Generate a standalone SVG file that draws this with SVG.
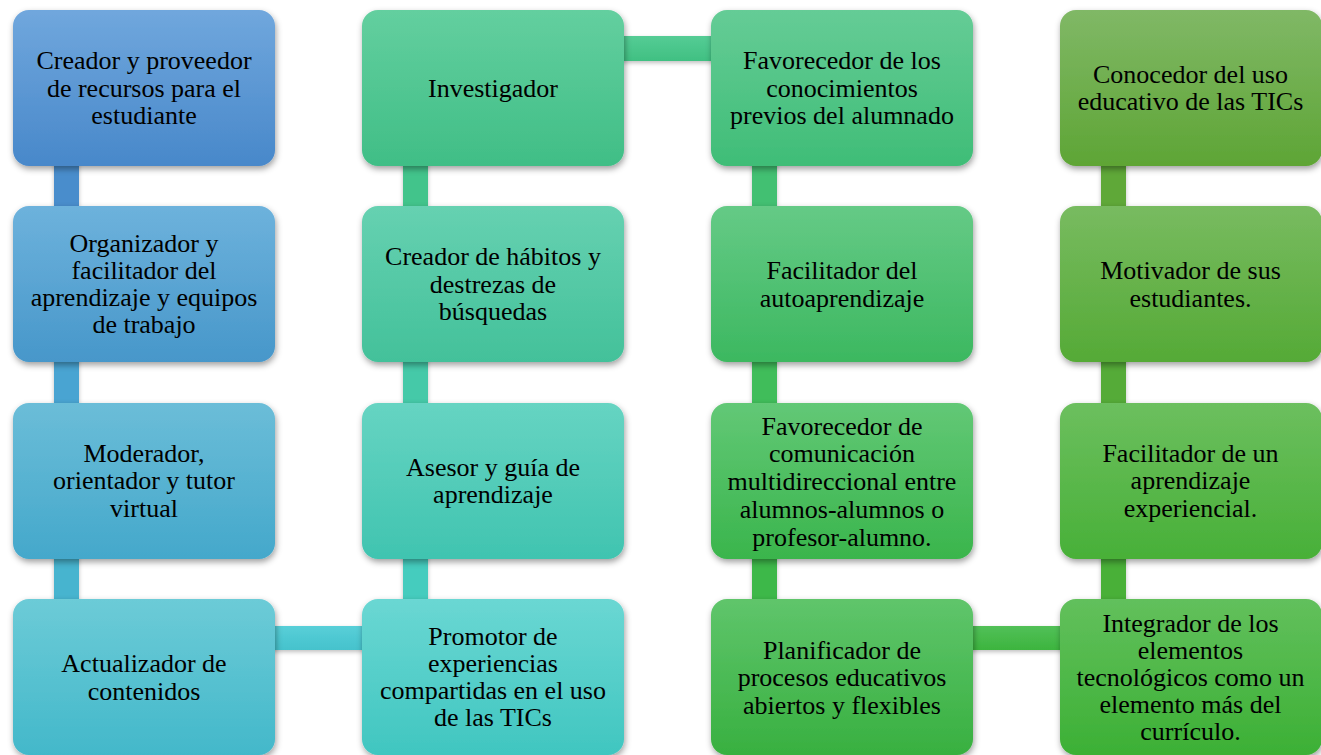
<svg xmlns="http://www.w3.org/2000/svg" width="1321" height="755" viewBox="0 0 1321 755">
<style>
.box{filter:url(#sh);}
.t{font-family:'Liberation Serif','Times New Roman',serif;font-size:26px;fill:#000;text-anchor:middle;}
.con{filter:url(#shc);}
</style>
<defs>
<filter id="sh" x="-10%" y="-10%" width="125%" height="130%">
<feDropShadow dx="1" dy="3" stdDeviation="3" flood-color="#000" flood-opacity="0.38"/>
</filter>
<filter id="shc" x="-20%" y="-20%" width="140%" height="160%">
<feDropShadow dx="0" dy="2" stdDeviation="2" flood-color="#000" flood-opacity="0.25"/>
</filter>
<linearGradient id="g11" x1="0" y1="0" x2="0" y2="1"><stop offset="0" stop-color="#70a7dd"/><stop offset="1" stop-color="#4888ca"/></linearGradient>
<linearGradient id="g12" x1="0" y1="0" x2="0" y2="1"><stop offset="0" stop-color="#6db2dc"/><stop offset="1" stop-color="#4797ca"/></linearGradient>
<linearGradient id="g13" x1="0" y1="0" x2="0" y2="1"><stop offset="0" stop-color="#6bbdd8"/><stop offset="1" stop-color="#44a8cb"/></linearGradient>
<linearGradient id="g14" x1="0" y1="0" x2="0" y2="1"><stop offset="0" stop-color="#6ccbd7"/><stop offset="1" stop-color="#43b8ca"/></linearGradient>
<linearGradient id="g21" x1="0" y1="0" x2="0" y2="1"><stop offset="0" stop-color="#63cf9f"/><stop offset="1" stop-color="#40be86"/></linearGradient>
<linearGradient id="g22" x1="0" y1="0" x2="0" y2="1"><stop offset="0" stop-color="#66d1b1"/><stop offset="1" stop-color="#43c19a"/></linearGradient>
<linearGradient id="g23" x1="0" y1="0" x2="0" y2="1"><stop offset="0" stop-color="#66d4c2"/><stop offset="1" stop-color="#40c4b0"/></linearGradient>
<linearGradient id="g24" x1="0" y1="0" x2="0" y2="1"><stop offset="0" stop-color="#6ad7d3"/><stop offset="1" stop-color="#40c6c0"/></linearGradient>
<linearGradient id="g31" x1="0" y1="0" x2="0" y2="1"><stop offset="0" stop-color="#65cc96"/><stop offset="1" stop-color="#3fbd77"/></linearGradient>
<linearGradient id="g32" x1="0" y1="0" x2="0" y2="1"><stop offset="0" stop-color="#65ca86"/><stop offset="1" stop-color="#3cb860"/></linearGradient>
<linearGradient id="g33" x1="0" y1="0" x2="0" y2="1"><stop offset="0" stop-color="#62c876"/><stop offset="1" stop-color="#3ab54c"/></linearGradient>
<linearGradient id="g34" x1="0" y1="0" x2="0" y2="1"><stop offset="0" stop-color="#5fc56b"/><stop offset="1" stop-color="#38b040"/></linearGradient>
<linearGradient id="g41" x1="0" y1="0" x2="0" y2="1"><stop offset="0" stop-color="#80b866"/><stop offset="1" stop-color="#5ea535"/></linearGradient>
<linearGradient id="g42" x1="0" y1="0" x2="0" y2="1"><stop offset="0" stop-color="#78bb60"/><stop offset="1" stop-color="#55aa36"/></linearGradient>
<linearGradient id="g43" x1="0" y1="0" x2="0" y2="1"><stop offset="0" stop-color="#6cbf5e"/><stop offset="1" stop-color="#48b038"/></linearGradient>
<linearGradient id="g44" x1="0" y1="0" x2="0" y2="1"><stop offset="0" stop-color="#62c05c"/><stop offset="1" stop-color="#3cb035"/></linearGradient>
<linearGradient id="hc1" x1="0" y1="0" x2="0" y2="1"><stop offset="0" stop-color="#58cfd8"/><stop offset="1" stop-color="#45c2cc"/></linearGradient>
<linearGradient id="hc2" x1="0" y1="0" x2="0" y2="1"><stop offset="0" stop-color="#55cc95"/><stop offset="1" stop-color="#40c082"/></linearGradient>
<linearGradient id="hc3" x1="0" y1="0" x2="0" y2="1"><stop offset="0" stop-color="#52c058"/><stop offset="1" stop-color="#3cb43e"/></linearGradient>
</defs>
<rect width="1321" height="755" fill="#fff"/>
<g id="connectors">
<rect class="con" x="54" y="160" width="25" height="52" fill="#4a8dcc"/>
<rect class="con" x="54" y="356" width="25" height="52" fill="#49a4d2"/>
<rect class="con" x="54" y="552" width="25" height="52" fill="#47b4cf"/>
<rect class="con" x="403" y="160" width="25" height="52" fill="#43c48b"/>
<rect class="con" x="403" y="356" width="25" height="52" fill="#45c9a8"/>
<rect class="con" x="403" y="552" width="25" height="52" fill="#45ccbe"/>
<rect class="con" x="752" y="160" width="25" height="52" fill="#42c072"/>
<rect class="con" x="752" y="356" width="25" height="52" fill="#40bd5a"/>
<rect class="con" x="752" y="552" width="25" height="52" fill="#3cb849"/>
<rect class="con" x="1101" y="160" width="25" height="52" fill="#5ea838"/>
<rect class="con" x="1101" y="356" width="25" height="52" fill="#55ab38"/>
<rect class="con" x="1101" y="552" width="25" height="52" fill="#48b038"/>
<rect class="con" x="268" y="626" width="100" height="24" fill="url(#hc1)"/>
<rect class="con" x="617" y="36" width="100" height="25" fill="url(#hc2)"/>
<rect class="con" x="966" y="626" width="100" height="24" fill="url(#hc3)"/>
</g>
<g id="n11"><rect class="box" x="13" y="10" width="262" height="156" rx="16" fill="url(#g11)"/>
<text class="t" x="144" y="69"><tspan x="144">Creador y proveedor</tspan><tspan x="144" dy="27.5">de recursos para el</tspan><tspan x="144" dy="27.5">estudiante</tspan></text></g>
<g id="n12"><rect class="box" x="13" y="206" width="262" height="156" rx="16" fill="url(#g12)"/>
<text class="t" x="144" y="251.5"><tspan x="144">Organizador y</tspan><tspan x="144" dy="27">facilitador del</tspan><tspan x="144" dy="27">aprendizaje y equipos</tspan><tspan x="144" dy="27">de trabajo</tspan></text></g>
<g id="n13"><rect class="box" x="13" y="403" width="262" height="156" rx="16" fill="url(#g13)"/>
<text class="t" x="144" y="461.5"><tspan x="144">Moderador,</tspan><tspan x="144" dy="27.5">orientador y tutor</tspan><tspan x="144" dy="27.5">virtual</tspan></text></g>
<g id="n14"><rect class="box" x="13" y="599" width="262" height="156" rx="16" fill="url(#g14)"/>
<text class="t" x="144" y="672"><tspan x="144">Actualizador de</tspan><tspan x="144" dy="27.5">contenidos</tspan></text></g>
<g id="n21"><rect class="box" x="362" y="10" width="262" height="156" rx="16" fill="url(#g21)"/>
<text class="t" x="493" y="96.5">Investigador</text></g>
<g id="n22"><rect class="box" x="362" y="206" width="262" height="156" rx="16" fill="url(#g22)"/>
<text class="t" x="493" y="265"><tspan x="493">Creador de hábitos y</tspan><tspan x="493" dy="27.5">destrezas de</tspan><tspan x="493" dy="27.5">búsquedas</tspan></text></g>
<g id="n23"><rect class="box" x="362" y="403" width="262" height="156" rx="16" fill="url(#g23)"/>
<text class="t" x="493" y="475.5"><tspan x="493">Asesor y guía de</tspan><tspan x="493" dy="27.5">aprendizaje</tspan></text></g>
<g id="n24"><rect class="box" x="362" y="599" width="262" height="156" rx="16" fill="url(#g24)"/>
<text class="t" x="493" y="644.5"><tspan x="493">Promotor de</tspan><tspan x="493" dy="27">experiencias</tspan><tspan x="493" dy="27">compartidas en el uso</tspan><tspan x="493" dy="27">de las TICs</tspan></text></g>
<g id="n31"><rect class="box" x="711" y="10" width="262" height="156" rx="16" fill="url(#g31)"/>
<text class="t" x="842" y="69"><tspan x="842">Favorecedor de los</tspan><tspan x="842" dy="27.5">conocimientos</tspan><tspan x="842" dy="27.5">previos del alumnado</tspan></text></g>
<g id="n32"><rect class="box" x="711" y="206" width="262" height="156" rx="16" fill="url(#g32)"/>
<text class="t" x="842" y="279"><tspan x="842">Facilitador del</tspan><tspan x="842" dy="27.5">autoaprendizaje</tspan></text></g>
<g id="n33"><rect class="box" x="711" y="403" width="262" height="156" rx="16" fill="url(#g33)"/>
<text class="t" x="842" y="434.5"><tspan x="842">Favorecedor de</tspan><tspan x="842" dy="27.8">comunicación</tspan><tspan x="842" dy="27.8">multidireccional entre</tspan><tspan x="842" dy="27.8">alumnos-alumnos o</tspan><tspan x="842" dy="27.8">profesor-alumno.</tspan></text></g>
<g id="n34"><rect class="box" x="711" y="599" width="262" height="156" rx="16" fill="url(#g34)"/>
<text class="t" x="842" y="658.5"><tspan x="842">Planificador de</tspan><tspan x="842" dy="27.5">procesos educativos</tspan><tspan x="842" dy="27.5">abiertos y flexibles</tspan></text></g>
<g id="n41"><rect class="box" x="1060" y="10" width="262" height="156" rx="16" fill="url(#g41)"/>
<text class="t" x="1190.5" y="82.5"><tspan x="1190.5">Conocedor del uso</tspan><tspan x="1190.5" dy="27.5">educativo de las TICs</tspan></text></g>
<g id="n42"><rect class="box" x="1060" y="206" width="262" height="156" rx="16" fill="url(#g42)"/>
<text class="t" x="1190.5" y="279"><tspan x="1190.5">Motivador de sus</tspan><tspan x="1190.5" dy="27.5">estudiantes.</tspan></text></g>
<g id="n43"><rect class="box" x="1060" y="403" width="262" height="156" rx="16" fill="url(#g43)"/>
<text class="t" x="1190.5" y="461.5"><tspan x="1190.5">Facilitador de un</tspan><tspan x="1190.5" dy="27.5">aprendizaje</tspan><tspan x="1190.5" dy="27.5">experiencial.</tspan></text></g>
<g id="n44"><rect class="box" x="1060" y="599" width="262" height="156" rx="16" fill="url(#g44)"/>
<text class="t" x="1190.5" y="631.5"><tspan x="1190.5">Integrador de los</tspan><tspan x="1190.5" dy="27.2">elementos</tspan><tspan x="1190.5" dy="27.2">tecnológicos como un</tspan><tspan x="1190.5" dy="27.2">elemento más del</tspan><tspan x="1190.5" dy="27.2">currículo.</tspan></text></g>
</svg>
